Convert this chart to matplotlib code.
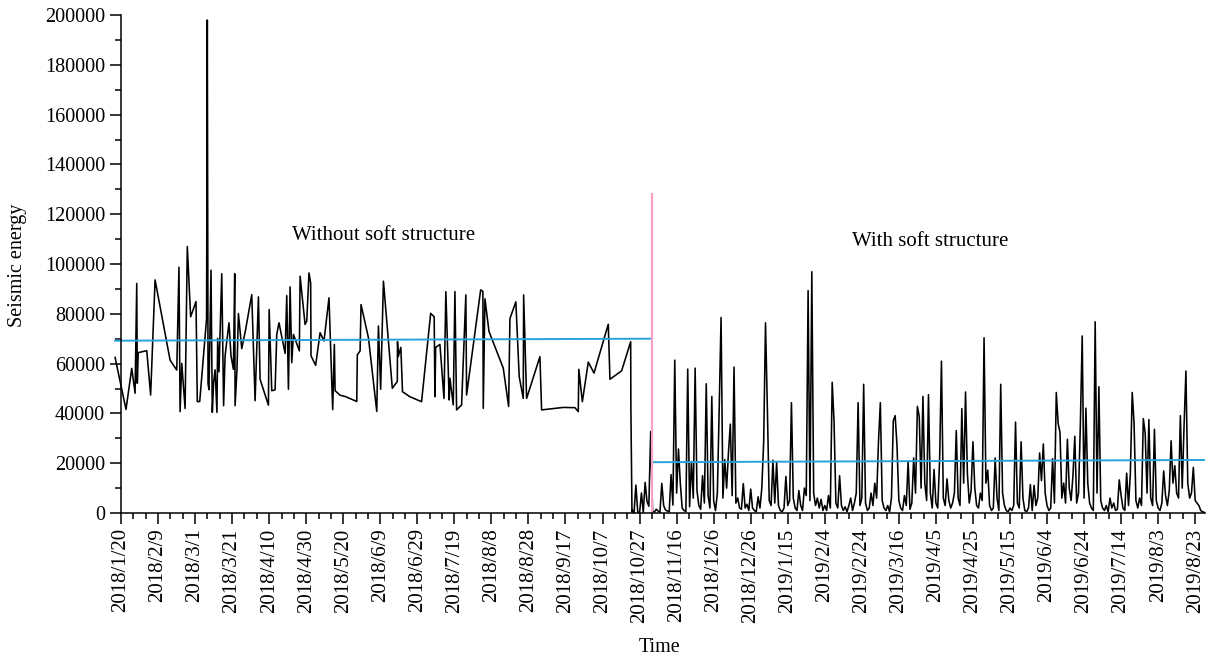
import datetime as dt

import matplotlib
matplotlib.use("Agg")
import matplotlib.pyplot as plt
import matplotlib.dates as mdates
import numpy as np
from matplotlib.ticker import FuncFormatter, FixedLocator, MultipleLocator

plt.rcParams["font.family"] = ["Liberation Serif", "DejaVu Serif"]

# days counted from 2018/1/20, values in thousands
before_days = [-3.2, 2.7, 5.8, 7.6, 8.5, 8.8, 9.3, 13.9, 16.0, 18.4, 26.5, 30.1, 31.3, 31.9, 32.8,
               34.6, 35.8, 37.6, 40.5, 41.2, 42.5, 46.2, 46.6, 47.0, 47.5, 48.6, 49.3, 50.0, 50.8,
               51.8, 52.2, 52.9, 54.4, 55.4, 56.2, 58.3, 59.4, 60.7, 61.4, 61.6, 62.6, 63.4, 65.2,
               67.3, 70.6, 72.4, 74.2, 75.1, 79.6, 80.0, 81.4, 83.2, 84.1, 85.3, 88.6, 89.5, 90.4,
               91.3, 92.2, 93.1, 96.3, 96.7, 99.4, 100.3, 101.5, 102.4, 102.6, 105.1, 107.5, 109.6,
               112.3, 114.3, 115.2, 115.6, 118.3, 121.0, 127.3, 127.6, 129.1, 129.6, 133.6, 138.1,
               139.0, 140.2, 141.7, 146.5, 149.2, 149.3, 149.7, 151.1, 152.0, 156.0, 162.3, 167.2,
               169.1, 169.5, 169.9, 172.2, 174.4, 175.4, 177.2, 177.6, 179.4, 180.3, 181.2, 183.9,
               186.2, 186.6, 194.2, 195.4, 195.6, 196.5, 198.7, 206.4, 209.3, 210.0, 213.2, 215.0,
               217.2, 217.4, 219.0, 226.2, 227.1, 238.8, 245.1, 246.9, 247.2, 249.1, 252.3, 255.4,
               263.1, 264.0, 270.3, 275.2, 275.3, 275.9]
before_vals = [62.5, 41.6, 58.1, 48.1, 92.2, 52.1, 64.4, 65.2, 47.4, 93.6, 61.4, 57.4, 98.7, 40.7,
               60.1, 42.0, 107.0, 78.8, 84.9, 44.7, 44.8, 78.0, 198.0, 52.0, 49.5, 97.5, 40.4, 52.4,
               57.5, 40.4, 70.1, 56.7, 96.1, 43.1, 63.1, 76.4, 63.1, 57.7, 96.1, 43.1, 57.1, 80.1,
               66.0, 73.7, 87.7, 45.1, 86.8, 53.7, 43.3, 81.7, 49.1, 49.5, 71.7, 76.4, 64.1, 87.3,
               49.7, 90.8, 60.4, 71.7, 65.1, 95.1, 75.7, 77.1, 96.4, 92.4, 63.1, 59.3, 72.4, 69.1,
               86.4, 41.5, 67.7, 49.1, 47.3, 46.8, 44.8, 63.5, 65.1, 83.7, 70.4, 40.8, 75.1, 49.7,
               93.1, 50.1, 52.8, 68.8, 62.8, 66.5, 48.7, 46.7, 44.7, 80.2, 78.8, 46.7, 66.5, 67.7,
               46.0, 88.9, 45.4, 54.1, 43.4, 88.9, 41.4, 43.4, 87.6, 47.4, 89.6, 89.0, 42.0, 86.0,
               72.9, 58.2, 42.8, 78.1, 84.8, 54.8, 46.0, 87.6, 46.0, 62.8, 41.4, 42.4, 42.3, 40.7,
               57.7, 44.7, 60.6, 56.2, 75.8, 53.7, 57.1, 68.8, 42.8, 0.5]

# daily values from day 276 onwards (thousands)
after_start = 276
after_vals = [
    1.3, 0, 11.2, 0.5, 0, 8.0, 0.3, 12.3, 4.7, 2.7,
    32.7, 0.7, 0.4, 1.5, 0.8, 0.3, 11.9, 3.0, 1.2, 0.8,
    0.5, 15.4, 3.2, 61.4, 8.0, 25.7, 12.0, 2.0, 1.0, 0.6,
    57.8, 2.5, 20.7, 6.0, 58.2, 9.0, 3.0, 1.5, 15.0, 4.0,
    51.9, 7.0, 2.0, 46.8, 5.0, 1.0, 8.0, 42.1, 78.5, 6.0,
    21.4, 10.0, 24.4, 35.7, 7.0, 58.6, 4.0, 6.0, 2.0, 1.5,
    11.8, 2.0, 3.5, 1.0, 9.6, 2.0, 1.0, 0.5, 6.5, 2.0,
    10.0, 28.4, 76.4, 42.1, 5.0, 3.0, 21.2, 4.0, 20.4, 3.0,
    1.0, 0.5, 2.0, 14.7, 3.0, 5.0, 44.3, 6.0, 2.0, 1.0,
    9.0, 3.0, 1.0, 10.0, 7.0, 89.3, 5.0, 96.9, 8.0, 3.0,
    6.0, 2.0, 5.5, 1.0, 3.0, 1.0, 7.0, 2.0, 52.5, 36.8,
    4.0, 2.0, 15.0, 3.0, 1.0, 2.5, 0.5, 3.0, 6.0, 1.0,
    4.0, 8.0, 44.3, 3.0, 6.0, 51.7, 4.0, 1.0, 2.0, 8.0,
    3.0, 12.0, 6.0, 28.7, 44.3, 5.0, 2.0, 1.0, 3.0, 0.5,
    6.0, 37.1, 39.1, 27.0, 5.0, 2.0, 1.0, 7.0, 3.0, 20.7,
    1.5, 4.0, 22.1, 8.0, 42.8, 38.8, 10.0, 46.8, 12.0, 5.0,
    47.5, 8.0, 2.0, 17.5, 4.0, 2.0, 21.2, 61.0, 6.0, 3.0,
    13.7, 5.0, 2.0, 4.0, 8.0, 33.1, 6.0, 3.0, 41.9, 12.0,
    48.6, 16.0, 4.0, 9.0, 28.6, 10.0, 3.0, 2.0, 8.0, 5.0,
    70.4, 12.0, 17.2, 3.0, 1.0, 2.0, 22.1, 6.0, 1.0, 51.7,
    8.0, 3.0, 1.0, 0.5, 2.0, 1.0, 3.0, 36.5, 4.0, 2.0,
    28.6, 6.0, 1.0, 0.5, 2.0, 11.4, 1.0, 11.1, 3.0, 6.0,
    24.1, 13.0, 27.7, 8.0, 3.0, 1.0, 2.0, 21.8, 4.0, 48.4,
    36.0, 32.4, 6.0, 12.0, 4.0, 29.6, 10.0, 5.0, 15.0, 30.8,
    4.0, 8.0, 35.5, 71.1, 6.0, 42.1, 12.0, 4.0, 2.0, 1.0,
    76.8, 8.0, 50.7, 5.0, 2.0, 1.0, 3.0, 0.5, 6.0, 2.0,
    4.0, 1.0, 1.5, 13.3, 7.0, 2.0, 1.0, 16.0, 3.0, 16.0,
    48.4, 36.0, 5.0, 2.0, 6.0, 3.0, 37.9, 32.0, 8.0, 37.5,
    6.0, 3.0, 33.6, 5.0, 2.0, 1.0, 4.0, 16.9, 7.0, 3.0,
    9.0, 29.0, 12.0, 19.0, 8.0, 6.0, 39.1, 10.0, 35.2, 57.0,
    12.0, 6.0, 8.0, 18.3, 5.0, 4.0, 3.0, 1.0, 0.5, 0.2,
]

# fitted mean lines and the split marker
trend_before_days = [-3.2, 286.7]
trend_before_vals = [69200, 70000]
trend_after_days = [287.5, 585.0]
trend_after_vals = [20400, 21300]
split_day = 286.7
split_top = 128000

start = mdates.date2num(dt.datetime(2018, 1, 20))
x_all = start + np.concatenate([before_days, after_start + np.arange(len(after_vals))])
y_all = np.concatenate([before_vals, after_vals]) * 1000

fig = plt.figure(figsize=(12.08, 6.63), dpi=100)
ax = fig.add_axes([121 / 1208, 1 - 513 / 663, (1205 - 121) / 1208, (513 - 15) / 663])

ax.plot(x_all, y_all, color="black", lw=1.15, clip_on=False)
ax.plot(start + np.array(trend_before_days), trend_before_vals, color="#26A2DC", lw=1.4, clip_on=False)
ax.plot(start + np.array(trend_after_days), trend_after_vals, color="#26A2DC", lw=1.4)
ax.plot([start + split_day] * 2, [0, split_top], color="#F4A3C6", lw=1.6)

ax.text(start + 142, 111500, "Without soft structure", ha="center", va="center", fontsize=15)
ax.text(start + 437, 109000, "With soft structure", ha="center", va="center", fontsize=15)

ax.set_xlim(start, start + 585.3)
ax.set_ylim(0, 200000)

ax.xaxis.set_major_locator(FixedLocator(start + np.arange(0, 600, 20)))
ax.xaxis.set_minor_locator(FixedLocator(start + np.arange(0, 600, 20 / 3)))
ax.xaxis.set_major_formatter(FuncFormatter(
    lambda v, p: "{0.year}/{0.month}/{0.day}".format(mdates.num2date(v))))
ax.yaxis.set_major_locator(MultipleLocator(20000))
ax.yaxis.set_minor_locator(MultipleLocator(10000))

for s in ["top", "right"]:
    ax.spines[s].set_visible(False)
for s in ["left", "bottom"]:
    ax.spines[s].set_linewidth(1.1)
ax.tick_params(which="major", direction="out", length=8, width=1.1)
ax.tick_params(which="minor", direction="out", length=4.5, width=1.1)
ax.tick_params(axis="y", labelsize=14.5)
ax.tick_params(axis="x", labelrotation=90, labelsize=15, pad=3)

fig.text(18 / 1208, 1 - 265 / 663, "Seismic energy", rotation=90, ha="center", va="center", fontsize=14.5)
fig.text(660 / 1208, 1 - 648 / 663, "Time", ha="center", va="center", fontsize=14.5)

fig.savefig("out.png", dpi=100)
